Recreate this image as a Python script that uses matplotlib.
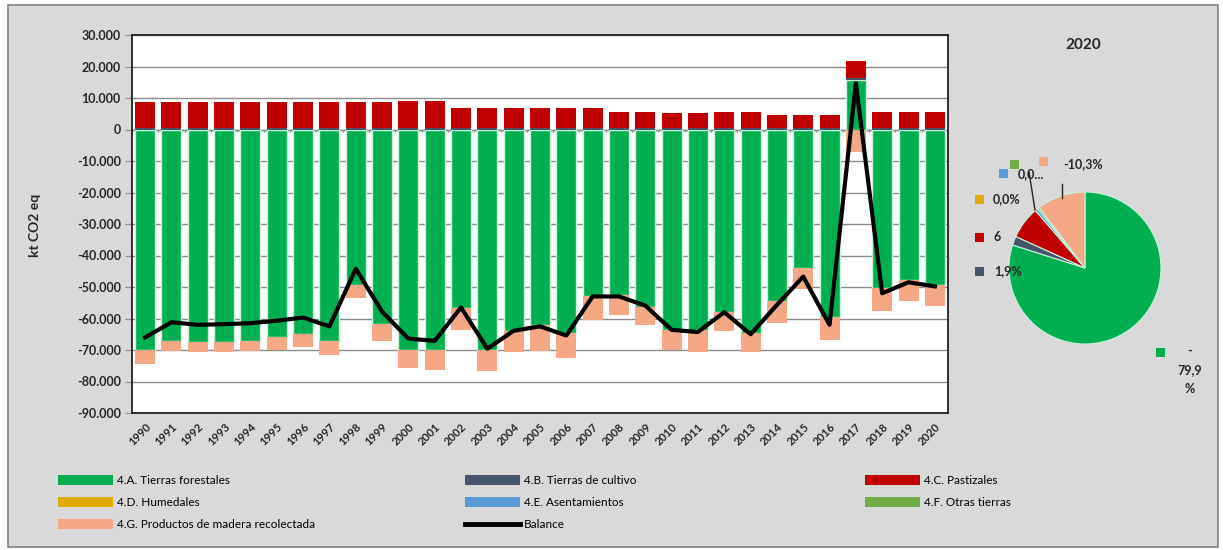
import numpy as np
import matplotlib.pyplot as plt
from matplotlib.patches import Rectangle, Patch
from matplotlib.lines import Line2D

plt.rcParams['font.family'] = ['Lato', 'DejaVu Sans']

W, H = 1223, 550

years = [str(y) for y in range(1990, 2021)]

# kt CO2 eq per category
forest = [-70000, -67100, -67500, -67500, -67300, -66000, -65000, -67100, -49300, -61800,
          -70000, -70000, -56700, -69900, -64100, -62200, -64700, -53000, -52500, -56200,
          -63600, -63600, -57800, -64700, -54600, -44000, -59400, 15800, -50400, -47700,
          -49300]
cropland = [500] * 31
pastures = [8300, 8300, 8300, 8300, 8300, 8300, 8300, 8300, 8300, 8300,
            8400, 8400, 6400, 6400, 6400, 6400, 6400, 6400, 5000, 5000,
            4700, 4700, 5000, 5000, 4200, 4000, 4000, 5400, 5000, 5000,
            5000]
wetlands = [0] * 31
settlements = [0] * 31
other_land = [0] * 31
hwp = [-4500, -3200, -3200, -3000, -3000, -4000, -3900, -4400, -4200, -5300,
       -5600, -6300, -6900, -6700, -6600, -8100, -7900, -7400, -6500, -6000,
       -6400, -6900, -6100, -5800, -6900, -6500, -7400, -7000, -7200, -6900,
       -6600]
balance = [-66000, -61200, -62000, -61800, -61500, -60700, -59700, -62500, -44200, -57800,
           -66400, -67100, -56500, -69600, -63900, -62500, -65400, -53000, -53000, -55900,
           -63600, -64300, -58000, -65000, -55700, -46700, -62000, 14700, -52000, -48500,
           -49800]

series_names = ['4.A. Tierras forestales', '4.B. Tierras de cultivo', '4.C. Pastizales',
                '4.D. Humedales', '4.E. Asentamientos', '4.F. Otras tierras',
                '4.G. Productos de madera recolectada']
series_colors = ['#00b050', '#44546a', '#c00000', '#e1ac00', '#5b9bd5', '#70ad47', '#f4a886']

# 2020 shares (%) for the pie
pie_shares = [79.9, 1.9, 6.9, 0.0, 0.6, 0.4, 10.3]


def fx(x):
    return x / W


def fy(y):
    return 1 - y / H


fig = plt.figure(figsize=(W / 100, H / 100), dpi=100, facecolor='white')
fig.add_artist(Rectangle((fx(8), fy(547)), (1218 - 8) / W, (547 - 5) / H,
                         transform=fig.transFigure, facecolor='#d9d9d9',
                         edgecolor='#808080', lw=1.2, zorder=-10))

ax = fig.add_axes([fx(132), fy(413), (948 - 132) / W, (413 - 35) / H])
ax.set_facecolor('white')

x = np.arange(len(years))
pos_base = np.zeros(len(years))
neg_base = np.zeros(len(years))
handles = []
for vals, name, col in zip([forest, cropland, pastures, wetlands, settlements, other_land, hwp],
                           series_names, series_colors):
    v = np.array(vals, dtype=float)
    base = np.where(v >= 0, pos_base, neg_base)
    edge = '#c9f3db' if col == '#00b050' else 'none'
    ax.bar(x, v, 0.76, bottom=base, color=col, edgecolor=edge, linewidth=1.0, zorder=2)
    pos_base = pos_base + np.where(v > 0, v, 0)
    neg_base = neg_base + np.where(v < 0, v, 0)
    handles.append(Patch(facecolor=col, edgecolor='none'))

ax.plot(x, balance, color='black', lw=3, zorder=4)
bal_handle = Line2D([0], [0], color='black', lw=3.5)

# category axis at zero with small ticks
ax.axhline(0, color='#8c8c8c', lw=1, zorder=1)
ax.vlines(np.arange(-0.5, len(years)), -700, 0, color='#8c8c8c', lw=0.8, zorder=1)

ax.set_xlim(-0.5, len(years) - 0.5)
ax.set_ylim(-90000, 30000)
ax.set_yticks(np.arange(-90000, 30001, 10000))
ax.set_yticklabels([f"{v:,.0f}".replace(',', '.') for v in np.arange(-90000, 30001, 10000)],
                   fontsize=9, fontweight='bold', color='#262626')
ax.yaxis.grid(True, color='#8c8c8c', lw=1)
ax.set_axisbelow(True)
ax.tick_params(axis='y', length=5, width=0.8, color='#8c8c8c', pad=3)
ax.set_xticks(x)
ax.set_xticklabels(years, rotation=45, ha='right', rotation_mode='anchor',
                   fontsize=8, fontweight='bold', color='#262626')
ax.tick_params(axis='x', length=0, pad=6)
for s in ax.spines.values():
    s.set_color('#202020')
    s.set_linewidth(1.3)

fig.text(fx(35), fy(225), 'kt CO2 eq', rotation=90, ha='center', va='center',
         fontsize=10, fontweight='bold', color='#262626')

# legends (three columns, Excel-like spacing)
cols = [([handles[0], handles[3], handles[6]], [series_names[0], series_names[3], series_names[6]], 58),
        ([handles[1], handles[4], bal_handle], [series_names[1], series_names[4], 'Balance'], 465),
        ([handles[2], handles[5]], [series_names[2], series_names[5]], 865)]
for hs, ls, px in cols:
    fig.legend(hs, ls, loc='upper left', bbox_to_anchor=(fx(px), fy(475)),
               frameon=False, handlelength=4.7, handleheight=0.9,
               handletextpad=0.3, labelspacing=0.95, borderpad=0, borderaxespad=0,
               prop={'size': 8.5})

# pie for 2020
cx, cy, r = 1085, 268, 76
axp = fig.add_axes([fx(cx - r), fy(cy + r), 2 * r / W, 2 * r / H])
axp.pie(pie_shares, colors=series_colors, startangle=90, counterclock=False,
        wedgeprops={'edgecolor': '#c9f3db', 'linewidth': 0.8})
axp.set_xlim(-1, 1)
axp.set_ylim(-1, 1)
axp.axis('off')

fig.text(fx(1083), fy(45), '2020', ha='center', va='center', fontsize=11,
         fontweight='bold', color='#262626')


def square(px, py, col, s=9):
    fig.add_artist(Rectangle((fx(px - s / 2), fy(py + s / 2)), s / W, s / H,
                             transform=fig.transFigure, facecolor=col, edgecolor='none'))


lab_kw = dict(fontsize=9, fontweight='bold', color='#262626', va='center')
square(1160, 352, series_colors[0])
fig.text(fx(1190), fy(345), '-\n79,9\n%', ha='center', va='top', fontsize=9,
         fontweight='bold', color='#262626', linespacing=1.7)
square(979, 271, series_colors[1])
fig.text(fx(994), fy(271), '1,9%', ha='left', **lab_kw)
square(979, 237, series_colors[2])
fig.text(fx(994), fy(237), '6', ha='left', **lab_kw)
square(979, 199, series_colors[3])
fig.text(fx(993), fy(199), '0,0%', ha='left', **lab_kw)
square(1003, 173, series_colors[4])
square(1014, 164, series_colors[5])
fig.text(fx(1018), fy(174), '0,0...', ha='left', **lab_kw)
square(1043, 161, series_colors[6])
fig.text(fx(1063), fy(164), '-10,3%', ha='left', **lab_kw)
fig.add_artist(Line2D([fx(1029), fx(1035)], [fy(172), fy(210)], transform=fig.transFigure,
                      color='#262626', lw=1))
fig.add_artist(Line2D([fx(1062), fx(1062)], [fy(184), fy(198)], transform=fig.transFigure,
                      color='#262626', lw=1))

fig.savefig('out.png', dpi=100, facecolor='white')
